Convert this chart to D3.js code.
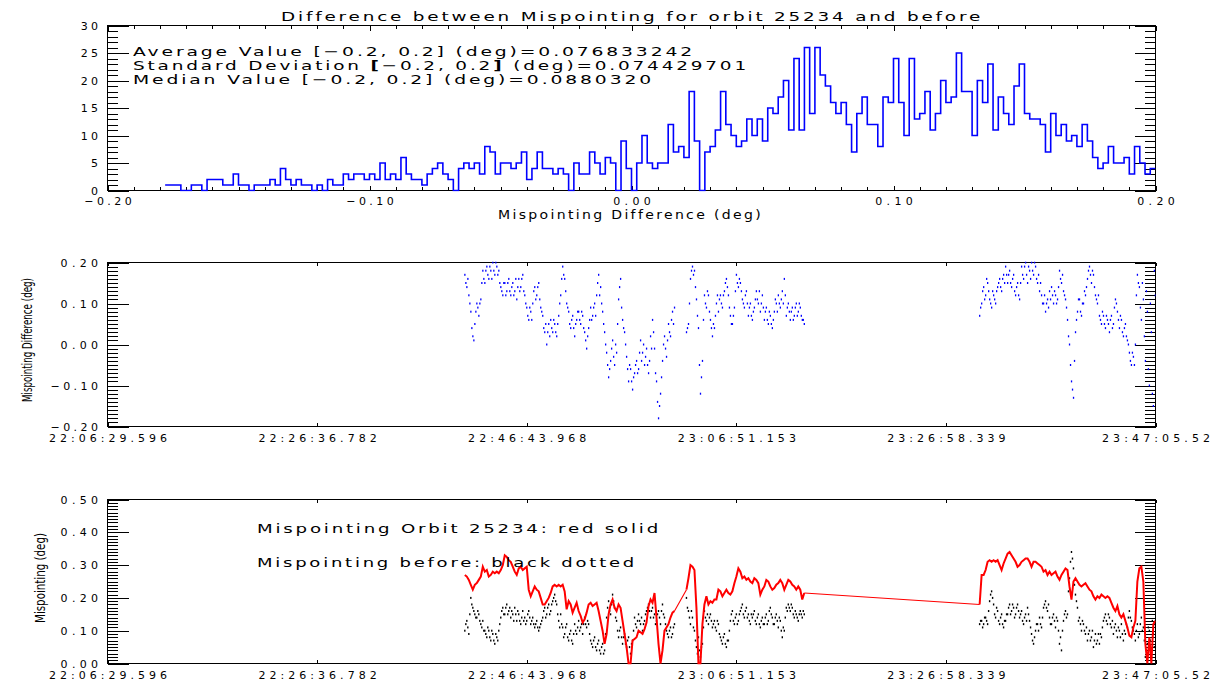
<!DOCTYPE html>
<html>
<head>
<meta charset="utf-8">
<script src="https://cdn.jsdelivr.net/npm/d3@7"></script>
<style>
  html, body { margin: 0; padding: 0; background: #fff; }
  svg { display: block; }
  text { font-family: "DejaVu Sans", "Liberation Sans", sans-serif; fill: #000; }
  .tick line, .box { stroke: #000; stroke-width: 1; shape-rendering: crispEdges; }
</style>
</head>
<body>
<svg id="chart" width="1220" height="682"></svg>
<script>
// ---------- histogram of the mispointing difference (bins of 0.002 deg from -0.2) ----------
const histStart = -0.2;
const histBinWidth = 0.002;
const histCounts = [
  0,0,0,0,0,0,0,0,0,0,
  0,1,1,1,0,0,1,1,0,2,
  2,2,1,1,3,1,1,0,1,1,
  1,2,1,4,2,1,2,1,1,0,
  1,0,2,1,1,3,2,3,3,2,
  3,2,5,2,3,2,6,3,2,2,
  1,3,4,5,3,2,0,4,5,4,
  5,3,8,7,3,5,5,4,5,7,
  2,4,7,4,4,3,4,3,0,5,
  3,3,7,5,3,6,5,0,9,4,
  0,5,10,5,4,5,5,12,7,8,
  6,18,9,0,7,8,11,18,12,10,
  8,9,13,10,13,9,15,14,17,20,
  11,24,11,26,14,26,21,19,16,14,
  16,12,7,14,17,12,12,8,17,16,
  24,16,10,24,13,14,18,11,14,20,
  16,17,25,18,18,10,20,16,23,11,
  17,14,12,19,23,14,13,13,12,7,
  14,10,12,9,10,8,12,9,6,4,
  5,8,5,5,6,3,8,5,3,4
];
const histXTicks = [-0.2, -0.1, 0.0, 0.1, 0.2];
const histXLabels = ["\u22120.20", "\u22120.10", "0.00", "0.10", "0.20"];
const histYTicks = [0, 5, 10, 15, 20, 25, 30];
const histYLabels = ["0", "5", "10", "15", "20", "25", "30"];

const statLines = [
  "Average Value [\u22120.2, 0.2] (deg)=0.076833242",
  "Standard Deviation [\u22120.2, 0.2] (deg)=0.074429701",
  "Median Value [\u22120.2, 0.2] (deg)=0.0880320"
];

// ---------- time axis (seconds after 22:06:29.596) ----------
const timeSpan = 6035.93;
const timeTicks = [0, 1207.186, 2414.372, 3621.558, 4828.744, 6035.93];
const timeLabels = ["22:06:29.596", "22:26:36.782", "22:46:43.968", "23:06:51.153", "23:26:58.339", "23:47:05.52"];

// two data passes, sampled every 11.5 s; the "Mid" arrays hold the samples half a step later
const seg1Start = 2058;
const seg2Start = 5023;
const sampleStep = 11.5;

// mispointing difference (deg)
const diffSeg1 = [
  0.17,0.14,0.12,0.08,0.02,0.05,0.10,0.07,0.11,0.18,
  0.15,0.19,0.16,0.18,0.20,0.17,0.19,0.18,0.14,0.12,
  0.15,0.13,0.16,0.12,0.15,0.13,0.11,0.16,0.14,0.17,
  0.12,0.09,0.06,0.08,0.10,0.14,0.12,0.15,0.09,0.07,
  0.03,0.00,0.05,0.06,0.03,0.05,0.02,0.07,0.12,0.19,
  0.16,0.10,0.08,0.04,0.07,0.02,0.06,0.08,0.05,0.07,
  0.03,-0.01,0.04,0.09,0.07,0.10,0.12,0.17,0.14,0.08,
  0.03,-0.02,-0.08,-0.04,0.01,-0.05,-0.02,0.11,0.16,0.06,
  0.03,-0.03,-0.09,-0.06,-0.11,-0.07,-0.04,-0.06,0.01,-0.02,
  -0.05,-0.01,-0.07,0.02,0.06,-0.01,-0.09,-0.18,-0.12,-0.04,
  0.02,-0.03,0.05,0.02,0.08,0.09,null,null,null,null,
  null,0.03,0.05,0.16,0.19,0.18,0.11,0.04,-0.12,-0.04,
  0.12,0.09,0.12,0.06,0.02,0.04,0.10,0.08,0.12,0.09,
  0.13,0.16,0.12,0.07,0.05,0.09,0.17,0.14,0.15,0.11,
  0.09,0.13,0.07,0.10,0.06,0.09,0.13,0.10,0.08,0.12,
  0.06,0.09,0.05,0.07,0.04,0.08,0.10,0.12,0.09,0.13,
  0.16,0.07,0.10,0.06,0.09,0.07,0.10,0.08,0.09,0.06,
  0.05
];
const diffSeg1Mid = [
  0.15,0.16,0.10,0.04,0.01,0.08,0.09,0.10,0.15,0.16,
  0.18,0.17,0.19,0.16,0.18,0.20,0.17,0.15,0.13,0.15,
  0.12,0.15,0.13,0.14,0.12,0.16,0.14,0.13,0.16,0.13,
  0.10,0.07,0.09,0.06,0.13,0.11,0.14,0.11,0.08,0.04,
  0.05,0.03,0.02,0.04,0.06,0.03,0.05,0.10,0.16,0.17,
  0.13,0.09,0.05,0.06,0.04,0.05,0.08,0.06,0.08,0.04,
  0.01,0.02,0.06,0.06,0.09,0.07,0.15,0.12,0.10,0.05,
  0.00,-0.05,-0.06,-0.01,-0.03,0.00,0.05,0.14,0.09,0.04,
  0.00,-0.06,-0.05,-0.09,-0.08,-0.05,-0.07,-0.02,-0.04,0.00,
  -0.03,-0.05,-0.04,-0.01,0.03,-0.07,-0.14,-0.15,-0.08,0.00,
  -0.01,0.01,0.03,0.06,0.05,null,null,null,null,null,
  null,0.04,0.10,0.18,0.17,0.14,0.07,-0.05,-0.08,0.06,
  0.10,0.13,0.08,0.04,0.05,0.07,0.12,0.11,0.10,0.12,
  0.15,0.14,0.09,0.05,0.07,0.13,0.15,0.16,0.13,0.10,
  0.12,0.10,0.09,0.07,0.08,0.11,0.11,0.13,0.10,0.09,
  0.08,0.06,0.08,0.05,0.06,0.11,0.08,0.10,0.11,0.10,
  0.12,0.09,0.08,0.08,0.06,0.09,0.07,0.10,0.07,0.06
];
const diffSeg2 = [
  0.07,0.10,0.14,0.12,0.15,0.11,0.09,0.12,0.10,0.14,
  0.16,0.13,0.17,0.19,0.15,0.18,0.14,0.17,0.12,0.15,
  0.11,0.19,0.16,0.20,0.15,0.18,0.20,0.17,0.19,0.15,
  0.13,0.12,0.10,0.08,0.11,0.13,0.14,0.10,0.12,0.11,
  0.18,0.15,0.13,0.11,0.06,0.00,-0.09,-0.13,0.03,0.08,
  0.11,0.07,0.10,0.12,0.16,0.19,0.15,0.17,0.12,0.10,
  0.07,0.05,0.07,0.04,0.06,0.03,0.07,0.05,0.11,0.08,
  0.04,0.06,0.02,0.05,0.01,-0.02,-0.05,-0.03,0.00,0.17,
  0.14,0.06,0.11,-0.04,0.08,-0.10,0.03,-0.15,0.12
];
const diffSeg2Mid = [
  0.09,0.13,0.11,0.16,0.13,0.10,0.13,0.11,0.13,0.15,
  0.14,0.16,0.15,0.17,0.17,0.15,0.16,0.13,0.14,0.12,
  0.15,0.17,0.19,0.17,0.19,0.16,0.18,0.20,0.16,0.17,
  0.15,0.10,0.12,0.10,0.09,0.11,0.12,0.13,0.10,0.14,
  0.16,0.17,0.12,0.09,0.02,-0.05,-0.11,-0.04,0.06,0.11,
  0.08,0.10,0.13,0.14,0.18,0.17,0.18,0.14,0.11,0.12,
  0.06,0.08,0.05,0.07,0.05,0.06,0.04,0.09,0.10,0.06,
  0.07,0.03,0.04,0.02,0.00,-0.04,-0.02,-0.05,0.12,0.15,
  0.09,0.15,0.02,0.13,-0.06,0.10,-0.12,0.18
];

// mispointing of orbit 25234 (deg)
const orbitSeg1 = [
  0.27,0.265,0.255,0.24,0.225,0.24,0.245,0.255,0.265,0.295,
  0.28,0.285,0.265,0.27,0.28,0.275,0.28,0.275,0.285,0.30,
  0.33,0.325,0.315,0.31,0.295,0.28,0.27,0.29,0.295,0.285,
  0.29,0.295,0.225,0.205,0.22,0.235,0.225,0.22,0.20,0.18,
  0.18,0.19,0.20,0.215,0.235,0.24,0.235,0.24,0.235,0.24,
  0.22,0.165,0.19,0.18,0.155,0.17,0.185,0.16,0.145,0.125,
  0.135,0.155,0.18,0.185,0.175,0.18,0.185,0.16,0.13,0.10,
  0.06,0.09,0.15,0.18,0.195,0.17,0.16,0.18,0.17,0.13,
  0.09,0.05,0.00,0.00,0.07,0.075,0.08,0.10,0.095,0.09,
  0.105,0.125,0.175,0.195,0.185,0.215,0.14,0.06,0.00,0.04,
  0.10,0.11,0.12,0.14,0.155,0.16,null,null,null,null,
  null,0.225,0.26,0.30,0.295,0.285,0.17,0.00,0.00,0.12,
  0.18,0.205,0.18,0.19,0.185,0.195,0.195,0.225,0.22,0.205,
  0.215,0.225,0.215,0.21,0.22,0.245,0.265,0.29,0.28,0.26,
  0.265,0.255,0.26,0.25,0.245,0.26,0.255,0.245,0.21,0.225,
  0.235,0.255,0.25,0.235,0.225,0.23,0.24,0.245,0.255,0.245,
  0.225,0.24,0.255,0.25,0.24,0.235,0.225,0.235,0.225,0.195,
  0.215
];
const orbitSeg2 = [
  0.18,0.27,0.27,0.285,0.31,0.315,0.31,0.315,0.31,0.315,
  0.30,0.285,0.305,0.32,0.335,0.34,0.33,0.32,0.31,0.295,
  0.30,0.31,0.315,0.32,0.32,0.31,0.295,0.31,0.31,0.305,
  0.30,0.295,0.28,0.285,0.27,0.28,0.27,0.275,0.28,0.265,
  0.255,0.27,0.28,0.29,0.285,0.235,0.195,0.25,0.26,0.25,
  0.24,0.235,0.24,0.245,0.235,0.225,0.22,0.205,0.195,0.205,
  0.20,0.21,0.205,0.20,0.205,0.20,0.185,0.17,0.16,0.175,
  0.15,0.14,0.15,0.13,0.11,0.085,0.08,0.11,0.13,0.25,
  0.29,0.295,0.25,0.06,0.00,0.08,0.00,0.12,0.13
];

// mispointing before (deg)
const beforeSeg1 = [
  0.10,0.13,0.09,0.20,0.17,0.15,0.14,0.15,0.12,0.13,
  0.10,0.08,0.10,0.07,0.09,0.06,0.08,0.10,0.14,0.17,
  0.15,0.18,0.16,0.14,0.15,0.17,0.13,0.15,0.12,0.16,
  0.14,0.13,0.16,0.12,0.14,0.11,0.13,0.10,0.12,0.14,
  0.17,0.15,0.18,0.16,0.19,0.21,0.18,0.13,0.15,0.11,
  0.09,0.12,0.07,0.10,0.06,0.12,0.09,0.13,0.11,0.09,
  0.14,0.11,0.12,0.07,0.05,0.08,0.04,0.07,0.03,0.06,
  0.04,0.14,0.19,0.15,0.21,0.17,0.13,0.08,0.11,0.06,
  0.09,0.05,0.08,0.03,0.07,0.14,0.11,0.15,0.12,0.10,
  0.13,0.16,0.18,0.14,0.17,0.15,0.13,0.16,0.12,0.18,
  0.14,0.10,0.08,0.11,0.09,0.12,null,null,null,null,
  null,0.20,0.16,0.12,0.14,0.10,0.05,0.08,0.02,0.06,
  0.16,0.13,0.12,0.15,0.11,0.13,0.10,0.12,0.08,0.06,
  0.09,0.05,0.07,0.13,0.16,0.12,0.15,0.13,0.16,0.18,
  0.14,0.17,0.15,0.12,0.14,0.16,0.12,0.15,0.11,0.14,
  0.12,0.15,0.13,0.17,0.14,0.12,0.15,0.11,0.13,0.08,
  0.10,0.17,0.18,0.16,0.17,0.14,0.15,0.13,0.16,0.14,
  0.15
];
const beforeSeg1Mid = [
  0.12,0.11,0.15,0.18,0.16,0.14,0.16,0.13,0.11,0.10,
  0.09,0.11,0.08,0.10,0.07,0.09,0.07,0.12,0.16,0.15,
  0.17,0.15,0.17,0.16,0.13,0.15,0.16,0.13,0.14,0.13,
  0.12,0.15,0.14,0.13,0.12,0.12,0.11,0.11,0.13,0.16,
  0.14,0.17,0.15,0.18,0.20,0.19,0.15,0.11,0.12,0.08,
  0.11,0.08,0.09,0.07,0.09,0.10,0.11,0.10,0.12,0.12,
  0.12,0.13,0.09,0.06,0.07,0.05,0.06,0.04,0.05,0.03,
  0.09,0.17,0.16,0.18,0.19,0.14,0.10,0.10,0.08,0.08,
  0.06,0.07,0.05,0.06,0.10,0.12,0.13,0.13,0.14,0.12,
  0.15,0.17,0.16,0.16,0.14,0.12,0.15,0.14,0.16,0.15,
  0.12,0.09,0.10,0.08,0.11,null,null,null,null,null,
  null,0.17,0.14,0.16,0.11,0.07,0.03,0.04,0.05,0.11,
  0.14,0.15,0.14,0.13,0.12,0.11,0.13,0.09,0.07,0.08,
  0.06,0.07,0.10,0.15,0.13,0.14,0.12,0.15,0.17,0.15,
  0.16,0.14,0.13,0.15,0.15,0.13,0.14,0.12,0.13,0.12,
  0.14,0.12,0.16,0.15,0.12,0.14,0.13,0.14,0.10,0.11,
  0.14,0.16,0.17,0.18,0.15,0.16,0.14,0.15,0.15,0.16
];
const beforeSeg2 = [
  0.12,0.13,0.12,0.14,0.12,0.19,0.22,0.18,0.14,0.16,
  0.12,0.15,0.11,0.13,0.15,0.18,0.16,0.17,0.15,0.18,
  0.14,0.16,0.12,0.15,0.17,0.13,0.09,0.06,0.10,0.12,
  0.14,0.11,0.17,0.19,0.16,0.14,0.12,0.15,0.11,0.13,
  0.06,0.04,0.13,0.16,0.15,0.26,0.34,0.29,0.21,0.17,
  0.14,0.10,0.12,0.09,0.07,0.10,0.08,0.05,0.09,0.07,
  0.06,0.08,0.13,0.15,0.12,0.14,0.11,0.09,0.12,0.08,
  0.10,0.12,0.07,0.09,0.11,0.16,0.13,0.10,0.07,0.12,
  0.09,0.14,0.11,0.02,0.06,0.10,0.04,0.09,0.12
];
const beforeSeg2Mid = [
  0.13,0.11,0.14,0.13,0.16,0.21,0.20,0.15,0.17,0.13,
  0.14,0.12,0.13,0.15,0.17,0.15,0.18,0.14,0.17,0.16,
  0.15,0.13,0.14,0.13,0.15,0.11,0.07,0.08,0.12,0.10,
  0.12,0.14,0.18,0.17,0.18,0.12,0.14,0.13,0.14,0.10,
  0.08,0.10,0.15,0.14,0.22,0.31,0.32,0.24,0.19,0.13,
  0.12,0.13,0.10,0.11,0.09,0.07,0.10,0.07,0.06,0.09,
  0.09,0.11,0.14,0.13,0.15,0.12,0.13,0.11,0.10,0.11,
  0.08,0.09,0.10,0.12,0.14,0.14,0.11,0.09,0.10,0.08,
  0.12,0.10,0.07,0.04,0.11,0.07,0.13,0.05
];

const diffYTicks = [-0.2, -0.1, 0.0, 0.1, 0.2];
const diffYLabels = ["\u22120.20", "\u22120.10", "0.00", "0.10", "0.20"];
const mispYTicks = [0, 0.1, 0.2, 0.3, 0.4, 0.5];
const mispYLabels = ["0.00", "0.10", "0.20", "0.30", "0.40", "0.50"];

// ---------- drawing ----------
const svg = d3.select("#chart");
svg.append("rect").attr("width", 1220).attr("height", 682).attr("fill", "#fff");

const X0 = 107.5, X1 = 1155.5;
const CHAR_W = 10.1; // advance of one tick-label character

function toSeries(start, vals) {
  return vals.map((v, i) => ({ t: start + i * sampleStep, v: v })).filter(d => d.v !== null);
}

// consecutive non-null runs of one pass
function runs(start, vals) {
  const out = [];
  let cur = null;
  vals.forEach((v, i) => {
    if (v === null) { cur = null; return; }
    if (!cur) { cur = []; out.push(cur); }
    cur.push({ t: start + i * sampleStep, v: v });
  });
  return out;
}

function range(a, b, step) {
  const out = [];
  const n = Math.round((b - a) / step);
  for (let i = 0; i <= n; i++) out.push(a + i * step);
  return out;
}

function styleTickText(sel) {
  sel.attr("fill", "#000").attr("font-size", 11)
    .attr("font-family", '"DejaVu Sans", sans-serif')
    .attr("lengthAdjust", "spacing")
    .attr("textLength", function () { return this.textContent.length * CHAR_W - 3; });
}

// IDL style box: ticks inward on all four sides, labels on left and bottom
function frame(id, x, y, o) {
  const g = svg.append("g").attr("id", id);
  const [xa, xb] = x.range();
  const [yb, ya] = y.range();
  const clip = svg.append("clipPath").attr("id", id + "-clip");
  clip.append("rect").attr("x", xa).attr("y", ya - 1).attr("width", xb - xa).attr("height", yb - ya + 2);

  const style = sel => {
    sel.select(".domain").remove();
    sel.selectAll(".tick line").attr("stroke", "#000");
  };

  if (o.xMinor) {
    g.append("g").attr("transform", `translate(0,${yb})`)
      .call(d3.axisBottom(x).tickValues(o.xMinor).tickSize(-o.xMinorLen).tickFormat("")).call(style);
    g.append("g").attr("transform", `translate(0,${ya})`)
      .call(d3.axisTop(x).tickValues(o.xMinor).tickSize(-o.xMinorLen).tickFormat("")).call(style);
  }
  if (o.yMinor) {
    g.append("g").attr("transform", `translate(${xa},0)`)
      .call(d3.axisLeft(y).tickValues(o.yMinor).tickSize(-o.yMinorLen).tickFormat("")).call(style);
    g.append("g").attr("transform", `translate(${xb},0)`)
      .call(d3.axisRight(y).tickValues(o.yMinor).tickSize(-o.yMinorLen).tickFormat("")).call(style);
  }

  const bx = g.append("g").attr("transform", `translate(0,${yb})`)
    .call(d3.axisBottom(x).tickValues(o.xTicks).tickSize(-o.xLen).tickPadding(o.xPad)
      .tickFormat((d, i) => o.xLabels[i]))
    .call(style);
  bx.selectAll("text").call(styleTickText);
  g.append("g").attr("transform", `translate(0,${ya})`)
    .call(d3.axisTop(x).tickValues(o.xTicks).tickSize(-o.xLen).tickFormat("")).call(style);

  const by = g.append("g").attr("transform", `translate(${xa},0)`)
    .call(d3.axisLeft(y).tickValues(o.yTicks).tickSize(-o.yLen).tickPadding(9.5)
      .tickFormat((d, i) => o.yLabels[i]))
    .call(style);
  by.selectAll("text").call(styleTickText);
  g.append("g").attr("transform", `translate(${xb},0)`)
    .call(d3.axisRight(y).tickValues(o.yTicks).tickSize(-o.yLen).tickFormat("")).call(style);

  g.append("rect").attr("class", "box")
    .attr("x", xa).attr("y", ya).attr("width", xb - xa).attr("height", yb - ya)
    .attr("fill", "none");

  return svg.append("g").attr("clip-path", `url(#${id}-clip)`);
}

// wide vector-style text: spaced letters, glyphs slightly stretched to the given length
function label(txt, x, y, len, size) {
  return svg.append("text").attr("x", x).attr("y", y).attr("font-size", size || 13)
    .attr("letter-spacing", 2)
    .attr("textLength", len).attr("lengthAdjust", "spacingAndGlyphs").text(txt);
}

// ---------- panel 1: histogram ----------
const xHist = d3.scaleLinear().domain([-0.2, 0.2]).range([X0, X1]);
const yHist = d3.scaleLinear().domain([0, 30]).range([190.5, 25.5]);

const p1 = frame("hist", xHist, yHist, {
  xTicks: histXTicks, xLabels: histXLabels, xLen: 5, xPad: 7,
  xMinor: range(-0.2, 0.2, 0.01), xMinorLen: 3.3,
  yTicks: histYTicks, yLabels: histYLabels, yLen: 21,
  yMinor: range(0, 30, 1), yMinorLen: 10.5
});

const firstBin = histCounts.findIndex(c => c > 0);
const histPts = [[histStart + firstBin * histBinWidth, histCounts[firstBin]]];
for (let i = firstBin; i < histCounts.length; i++) {
  histPts.push([histStart + (i + 0.5) * histBinWidth, histCounts[i]]);
}
histPts.push([histStart + histCounts.length * histBinWidth, histCounts[histCounts.length - 1]]);

p1.append("path")
  .attr("d", d3.line().x(d => xHist(d[0])).y(d => yHist(d[1])).curve(d3.curveStep)(histPts))
  .attr("fill", "none").attr("stroke", "#0000ff").attr("stroke-width", 1.6);

label("Difference between Mispointing for orbit 25234 and before", 281, 21, 702, 13);
label(statLines[0], 133, 55.5, 562, 13);
label(statLines[2], 133, 84, 521, 13);
{
  // second statistics line, with heavy brackets
  const t = svg.append("text").attr("x", 133).attr("y", 69.5).attr("font-size", 13)
    .attr("letter-spacing", 2)
    .attr("textLength", 616).attr("lengthAdjust", "spacingAndGlyphs");
  const s = statLines[1];
  const a = s.indexOf("["), b = s.indexOf("]");
  t.append("tspan").text(s.slice(0, a));
  t.append("tspan").attr("font-weight", "bold").text("[");
  t.append("tspan").text(s.slice(a + 1, b));
  t.append("tspan").attr("font-weight", "bold").text("]");
  t.append("tspan").text(s.slice(b + 1));
}
label("Mispointing Difference (deg)", 498, 218.5, 265, 12);

// ---------- panel 2: difference vs time ----------
const xTime2 = d3.scaleLinear().domain([0, timeSpan]).range([X0, X1]);
const yDiff = d3.scaleLinear().domain([-0.2, 0.2]).range([426.5, 262.5]);

const p2 = frame("diff", xTime2, yDiff, {
  xTicks: timeTicks, xLabels: timeLabels, xLen: 3.5, xPad: 7.5,
  yTicks: diffYTicks, yLabels: diffYLabels, yLen: 21,
  yMinor: range(-0.2, 0.2, 0.01), yMinorLen: 10.5
});

const diffPts = toSeries(seg1Start, diffSeg1)
  .concat(toSeries(seg1Start + sampleStep / 2, diffSeg1Mid))
  .concat(toSeries(seg2Start, diffSeg2))
  .concat(toSeries(seg2Start + sampleStep / 2, diffSeg2Mid));
p2.selectAll("rect.dot").data(diffPts).join("rect").attr("class", "dot")
  .attr("x", d => xTime2(d.t) - 0.6).attr("y", d => yDiff(d.v) - 1)
  .attr("width", 1.3).attr("height", 2).attr("fill", "#0000ff");

svg.append("text")
  .attr("transform", "translate(32,340) rotate(-90)")
  .attr("text-anchor", "middle").attr("font-size", 14)
  .attr("font-family", '"Liberation Sans Narrow", "Liberation Sans", sans-serif')
  .attr("textLength", 124).attr("lengthAdjust", "spacingAndGlyphs")
  .text("Mispointing Difference (deg)");

// ---------- panel 3: mispointing vs time ----------
const xTime3 = d3.scaleLinear().domain([0, timeSpan]).range([X0, X1]);
const yMisp = d3.scaleLinear().domain([0, 0.5]).range([663.5, 499.5]);

const p3 = frame("misp", xTime3, yMisp, {
  xTicks: timeTicks, xLabels: timeLabels, xLen: 3.5, xPad: 7.5,
  yTicks: mispYTicks, yLabels: mispYLabels, yLen: 21,
  yMinor: range(0, 0.5, 0.01), yMinorLen: 10.5
});

const beforePts = toSeries(seg1Start, beforeSeg1)
  .concat(toSeries(seg1Start + sampleStep / 2, beforeSeg1Mid))
  .concat(toSeries(seg2Start, beforeSeg2))
  .concat(toSeries(seg2Start + sampleStep / 2, beforeSeg2Mid));
p3.selectAll("rect.dot").data(beforePts).join("rect").attr("class", "dot")
  .attr("x", d => xTime3(d.t) - 0.7).attr("y", d => yMisp(d.v) - 1)
  .attr("width", 1.4).attr("height", 2).attr("fill", "#000");

// orbit line: measured stretches drawn heavier, the joins across data gaps thin
const orbitRuns = runs(seg1Start, orbitSeg1).concat(runs(seg2Start, orbitSeg2));
const lineGen = d3.line().x(d => xTime3(d.t)).y(d => yMisp(d.v));
orbitRuns.forEach((r, k) => {
  if (k > 0) {
    const prev = orbitRuns[k - 1];
    p3.append("path").attr("d", lineGen([prev[prev.length - 1], r[0]]))
      .attr("fill", "none").attr("stroke", "#ff0000").attr("stroke-width", 1.1);
  }
  p3.append("path").attr("d", lineGen(r))
    .attr("fill", "none").attr("stroke", "#ff0000").attr("stroke-width", 2)
    .attr("stroke-linejoin", "miter");
});

label("Mispointing Orbit 25234: red solid", 257, 533, 404, 13);
label("Mispointing before: black dotted", 257, 566.5, 380, 13);

svg.append("text")
  .attr("transform", "translate(45,578) rotate(-90)")
  .attr("text-anchor", "middle").attr("font-size", 14)
  .attr("font-family", '"Liberation Sans Narrow", "Liberation Sans", sans-serif')
  .attr("textLength", 90).attr("lengthAdjust", "spacingAndGlyphs")
  .text("Mispointing (deg)");
</script>
</body>
</html>
